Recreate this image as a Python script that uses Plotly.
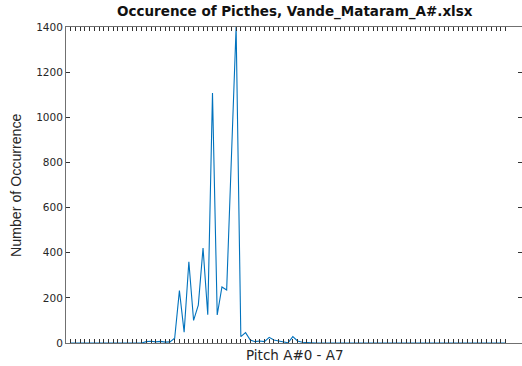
import plotly.graph_objects as go

# Occurrence counts for each pitch index (A#0 ... A7)
counts = [0] * 16 + [
    6, 8, 5, 7, 4, 5, 21, 232, 48, 360, 100, 168, 421, 125, 1107, 124,
    248, 235, 820, 1400, 28, 46, 13, 6, 9, 6, 25, 13, 9, 6, 1, 28, 9, 3, 1,
] + [0] * 42
pitch_index = list(range(1, len(counts) + 1))
y_ticks = [0, 200, 400, 600, 800, 1000, 1200, 1400]

title_text = "Occurence of Picthes, Vande_Mataram_A#.xlsx"
x_label = "Pitch A#0 - A7"
y_label = "Number of Occurrence"

txt = "#262626"

fig = go.Figure()
fig.add_trace(go.Scatter(
    x=pitch_index, y=counts, mode="lines",
    line=dict(color="#0072BD", width=1.1),
    hoverinfo="skip", showlegend=False,
))

fig.update_layout(
    width=522, height=366,
    margin=dict(l=66, r=0, t=27, b=23),
    paper_bgcolor="white", plot_bgcolor="white",
    showlegend=False,
    xaxis=dict(
        range=[0, 96.5], tickvals=pitch_index, showticklabels=False,
        ticks="inside", ticklen=4, tickwidth=1, tickcolor="#333333",
        showline=True, linecolor="#707070", linewidth=1, mirror="ticks",
        showgrid=False, zeroline=False,
    ),
    yaxis=dict(
        range=[0, 1400], tickvals=y_ticks,
        ticks="inside", ticklen=4, tickwidth=1, tickcolor="#333333",
        showline=True, linecolor="#707070", linewidth=1, mirror="ticks",
        showgrid=False, zeroline=False,
        tickfont=dict(family="DejaVu Sans", size=10.5, color=txt),
    ),
    annotations=[
        dict(text="<b>" + title_text + "</b>", xref="paper", yref="paper",
             x=0.502, y=1.0475, xanchor="center", yanchor="middle", showarrow=False,
             font=dict(family="DejaVu Sans", size=13.5, color="#111111")),
        dict(text=x_label, xref="paper", yref="paper",
             x=0.502, y=-0.038, xanchor="center", yanchor="middle", showarrow=False,
             font=dict(family="DejaVu Sans", size=13.5, color=txt)),
        dict(text=y_label, xref="paper", yref="paper", textangle=-90,
             x=-0.1096, y=0.5, xanchor="center", yanchor="middle", showarrow=False,
             font=dict(family="Liberation Sans", size=14.2, color=txt)),
    ],
)

fig.write_html("out.html")
